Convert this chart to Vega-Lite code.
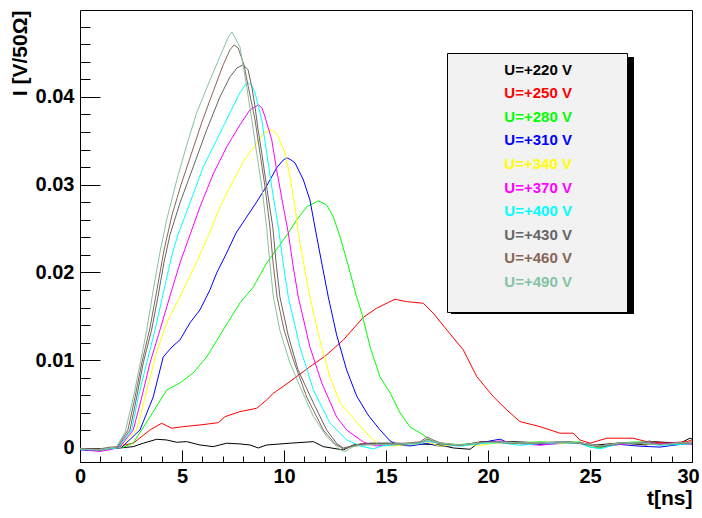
{
"$schema": "https://vega.github.io/schema/vega-lite/v6.json",
"width": 612,
"height": 452,
"autosize": {"type": "none"},
"padding": {"left": 80, "top": 10, "right": 10, "bottom": 56},
"background": "white",
"config": {"view": {"stroke": "black", "strokeWidth": 1}, "font": "Liberation Sans"},
"datasets": {"curves": [
{"U":"U=+220 V","t":0,"I":-0.0001},{"U":"U=+220 V","t":0.49,"I":-0.0002},{"U":"U=+220 V","t":0.98,"I":-0.0002},{"U":"U=+220 V","t":1.47,"I":-0.0001},{"U":"U=+220 V","t":1.96,"I":0},{"U":"U=+220 V","t":2.61,"I":0.00015},{"U":"U=+220 V","t":3.1,"I":0.00054},{"U":"U=+220 V","t":3.76,"I":0.00099},{"U":"U=+220 V","t":4.25,"I":0.00091},{"U":"U=+220 V","t":4.74,"I":0.00065},{"U":"U=+220 V","t":5.23,"I":0.00072},{"U":"U=+220 V","t":5.88,"I":0.00034},{"U":"U=+220 V","t":6.53,"I":0.00015},{"U":"U=+220 V","t":7.19,"I":0.00054},{"U":"U=+220 V","t":7.84,"I":0.00046},{"U":"U=+220 V","t":8.33,"I":0.00034},{"U":"U=+220 V","t":8.74,"I":0},{"U":"U=+220 V","t":9.15,"I":0.00034},{"U":"U=+220 V","t":10.29,"I":0.00054},{"U":"U=+220 V","t":11.44,"I":0.00072},{"U":"U=+220 V","t":11.93,"I":0.00015},{"U":"U=+220 V","t":12.91,"I":-0.00023},{"U":"U=+220 V","t":13.4,"I":0.00034},{"U":"U=+220 V","t":14.22,"I":0.00054},{"U":"U=+220 V","t":15.52,"I":0.00054},{"U":"U=+220 V","t":16.67,"I":0.00046},{"U":"U=+220 V","t":17.65,"I":0.00034},{"U":"U=+220 V","t":18.3,"I":0},{"U":"U=+220 V","t":19.12,"I":-0.00015},{"U":"U=+220 V","t":19.61,"I":0.00072},{"U":"U=+220 V","t":21.24,"I":0.00072},{"U":"U=+220 V","t":22.55,"I":0.00057},{"U":"U=+220 V","t":24.02,"I":0.00068},{"U":"U=+220 V","t":25.33,"I":0.00034},{"U":"U=+220 V","t":26.47,"I":0.00057},{"U":"U=+220 V","t":27.78,"I":0.00034},{"U":"U=+220 V","t":28.1,"I":0.00072},{"U":"U=+220 V","t":29.41,"I":0.00054},{"U":"U=+220 V","t":29.9,"I":0.00111},{"U":"U=+220 V","t":30,"I":0.00103},
{"U":"U=+250 V","t":0,"I":-0.0001},{"U":"U=+250 V","t":0.49,"I":-0.0002},{"U":"U=+250 V","t":0.98,"I":-0.0002},{"U":"U=+250 V","t":1.47,"I":0},{"U":"U=+250 V","t":1.8,"I":0.00015},{"U":"U=+250 V","t":2.61,"I":0.00054},{"U":"U=+250 V","t":3.43,"I":0.00205},{"U":"U=+250 V","t":4.0,"I":0.00281},{"U":"U=+250 V","t":4.5,"I":0.00225},{"U":"U=+250 V","t":5.06,"I":0.00243},{"U":"U=+250 V","t":5.88,"I":0.00262},{"U":"U=+250 V","t":6.78,"I":0.00288},{"U":"U=+250 V","t":7.11,"I":0.00357},{"U":"U=+250 V","t":7.84,"I":0.00414},{"U":"U=+250 V","t":8.66,"I":0.00452},{"U":"U=+250 V","t":9.15,"I":0.00547},{"U":"U=+250 V","t":9.48,"I":0.00623},{"U":"U=+250 V","t":10.29,"I":0.00756},{"U":"U=+250 V","t":11.27,"I":0.00926},{"U":"U=+250 V","t":12.09,"I":0.0106},{"U":"U=+250 V","t":12.91,"I":0.01231},{"U":"U=+250 V","t":13.56,"I":0.01402},{"U":"U=+250 V","t":13.89,"I":0.01489},{"U":"U=+250 V","t":14.54,"I":0.01592},{"U":"U=+250 V","t":15.44,"I":0.01695},{"U":"U=+250 V","t":16.01,"I":0.01667},{"U":"U=+250 V","t":16.83,"I":0.01649},{"U":"U=+250 V","t":17.32,"I":0.01535},{"U":"U=+250 V","t":17.98,"I":0.01345},{"U":"U=+250 V","t":18.79,"I":0.01117},{"U":"U=+250 V","t":19.45,"I":0.00813},{"U":"U=+250 V","t":20.26,"I":0.00585},{"U":"U=+250 V","t":20.92,"I":0.00433},{"U":"U=+250 V","t":21.57,"I":0.003},{"U":"U=+250 V","t":22.55,"I":0.00243},{"U":"U=+250 V","t":23.53,"I":0.00168},{"U":"U=+250 V","t":24.18,"I":0.00168},{"U":"U=+250 V","t":24.51,"I":0.00091},{"U":"U=+250 V","t":25.0,"I":0.00054},{"U":"U=+250 V","t":25.82,"I":0.00111},{"U":"U=+250 V","t":27.11,"I":0.00111},{"U":"U=+250 V","t":27.78,"I":0.00072},{"U":"U=+250 V","t":28.76,"I":0.00054},{"U":"U=+250 V","t":29.74,"I":0.00072},{"U":"U=+250 V","t":30,"I":0.00091},
{"U":"U=+280 V","t":0,"I":-0.0001},{"U":"U=+280 V","t":0.49,"I":-0.0002},{"U":"U=+280 V","t":0.98,"I":-0.0003},{"U":"U=+280 V","t":1.47,"I":-0.0001},{"U":"U=+280 V","t":1.8,"I":0},{"U":"U=+280 V","t":2.16,"I":0.00011},{"U":"U=+280 V","t":2.61,"I":0.00057},{"U":"U=+280 V","t":3.43,"I":0.00353},{"U":"U=+280 V","t":4.25,"I":0.00661},{"U":"U=+280 V","t":4.9,"I":0.00741},{"U":"U=+280 V","t":5.55,"I":0.00855},{"U":"U=+280 V","t":6.21,"I":0.01037},{"U":"U=+280 V","t":7.02,"I":0.01345},{"U":"U=+280 V","t":7.84,"I":0.01652},{"U":"U=+280 V","t":8.5,"I":0.01835},{"U":"U=+280 V","t":9.15,"I":0.02108},{"U":"U=+280 V","t":9.61,"I":0.02256},{"U":"U=+280 V","t":10.15,"I":0.02427},{"U":"U=+280 V","t":10.62,"I":0.02598},{"U":"U=+280 V","t":11.11,"I":0.02746},{"U":"U=+280 V","t":11.68,"I":0.02815},{"U":"U=+280 V","t":12.09,"I":0.02769},{"U":"U=+280 V","t":12.42,"I":0.02632},{"U":"U=+280 V","t":12.75,"I":0.02405},{"U":"U=+280 V","t":13.14,"I":0.02085},{"U":"U=+280 V","t":13.56,"I":0.01721},{"U":"U=+280 V","t":13.81,"I":0.01538},{"U":"U=+280 V","t":14.22,"I":0.01151},{"U":"U=+280 V","t":14.71,"I":0.00809},{"U":"U=+280 V","t":15.2,"I":0.00627},{"U":"U=+280 V","t":15.69,"I":0.00399},{"U":"U=+280 V","t":16.18,"I":0.00239},{"U":"U=+280 V","t":16.83,"I":0.00148},{"U":"U=+280 V","t":17.16,"I":0.00091},{"U":"U=+280 V","t":17.65,"I":0.00046},{"U":"U=+280 V","t":18.63,"I":0.0004},{"U":"U=+280 V","t":19.61,"I":0.0006},{"U":"U=+280 V","t":20.59,"I":0.0007},{"U":"U=+280 V","t":21.57,"I":0.0006},{"U":"U=+280 V","t":22.55,"I":0.0007},{"U":"U=+280 V","t":23.53,"I":0.0006},{"U":"U=+280 V","t":24.51,"I":0.0007},{"U":"U=+280 V","t":25.0,"I":0.0001},{"U":"U=+280 V","t":25.49,"I":0},{"U":"U=+280 V","t":26.47,"I":0.0006},{"U":"U=+280 V","t":27.45,"I":0.0007},{"U":"U=+280 V","t":28.43,"I":0.0004},{"U":"U=+280 V","t":29.41,"I":0.0005},{"U":"U=+280 V","t":30,"I":0.0006},
{"U":"U=+310 V","t":0,"I":-0.0002},{"U":"U=+310 V","t":0.49,"I":-0.0003},{"U":"U=+310 V","t":0.98,"I":-0.0002},{"U":"U=+310 V","t":1.47,"I":-0.0001},{"U":"U=+310 V","t":1.8,"I":0},{"U":"U=+310 V","t":2.06,"I":0.00011},{"U":"U=+310 V","t":2.94,"I":0.00205},{"U":"U=+310 V","t":3.59,"I":0.00581},{"U":"U=+310 V","t":4.08,"I":0.01037},{"U":"U=+310 V","t":4.51,"I":0.01151},{"U":"U=+310 V","t":4.9,"I":0.01231},{"U":"U=+310 V","t":5.39,"I":0.01425},{"U":"U=+310 V","t":5.88,"I":0.01573},{"U":"U=+310 V","t":6.37,"I":0.01801},{"U":"U=+310 V","t":6.7,"I":0.01994},{"U":"U=+310 V","t":7.19,"I":0.02222},{"U":"U=+310 V","t":7.65,"I":0.0245},{"U":"U=+310 V","t":8.17,"I":0.02632},{"U":"U=+310 V","t":8.66,"I":0.02803},{"U":"U=+310 V","t":9.15,"I":0.02986},{"U":"U=+310 V","t":9.64,"I":0.03191},{"U":"U=+310 V","t":9.97,"I":0.03282},{"U":"U=+310 V","t":10.15,"I":0.03305},{"U":"U=+310 V","t":10.34,"I":0.03282},{"U":"U=+310 V","t":10.54,"I":0.03248},{"U":"U=+310 V","t":10.95,"I":0.03054},{"U":"U=+310 V","t":11.27,"I":0.02826},{"U":"U=+310 V","t":11.57,"I":0.0245},{"U":"U=+310 V","t":11.85,"I":0.02108},{"U":"U=+310 V","t":12.17,"I":0.01721},{"U":"U=+310 V","t":12.58,"I":0.01288},{"U":"U=+310 V","t":13.07,"I":0.00889},{"U":"U=+310 V","t":13.56,"I":0.00593},{"U":"U=+310 V","t":14.12,"I":0.00376},{"U":"U=+310 V","t":14.71,"I":0.00205},{"U":"U=+310 V","t":15.2,"I":0.0008},{"U":"U=+310 V","t":15.59,"I":0.00034},{"U":"U=+310 V","t":16.18,"I":0.00023},{"U":"U=+310 V","t":16.67,"I":0.0004},{"U":"U=+310 V","t":17.01,"I":0.0005},{"U":"U=+310 V","t":17.65,"I":0.0002},{"U":"U=+310 V","t":18.63,"I":0.0003},{"U":"U=+310 V","t":19.61,"I":0.0005},{"U":"U=+310 V","t":20.1,"I":0.0008},{"U":"U=+310 V","t":20.59,"I":0.001},{"U":"U=+310 V","t":21.0,"I":0.0006},{"U":"U=+310 V","t":21.57,"I":0.0005},{"U":"U=+310 V","t":22.55,"I":0.0004},{"U":"U=+310 V","t":23.53,"I":0.0005},{"U":"U=+310 V","t":24.51,"I":0.0006},{"U":"U=+310 V","t":25.49,"I":0.0002},{"U":"U=+310 V","t":26.47,"I":0.0004},{"U":"U=+310 V","t":27.45,"I":0.0002},{"U":"U=+310 V","t":28.43,"I":0.0001},{"U":"U=+310 V","t":29.41,"I":0.0004},{"U":"U=+310 V","t":30,"I":0.0005},
{"U":"U=+340 V","t":0,"I":-0.0001},{"U":"U=+340 V","t":0.49,"I":-0.0002},{"U":"U=+340 V","t":0.98,"I":-0.0002},{"U":"U=+340 V","t":1.47,"I":-0.0001},{"U":"U=+340 V","t":1.8,"I":0},{"U":"U=+340 V","t":2.01,"I":0.00011},{"U":"U=+340 V","t":2.78,"I":0.00205},{"U":"U=+340 V","t":3.19,"I":0.00581},{"U":"U=+340 V","t":3.76,"I":0.01094},{"U":"U=+340 V","t":4.25,"I":0.01425},{"U":"U=+340 V","t":4.9,"I":0.01721},{"U":"U=+340 V","t":5.72,"I":0.02119},{"U":"U=+340 V","t":6.37,"I":0.02461},{"U":"U=+340 V","t":6.86,"I":0.02746},{"U":"U=+340 V","t":7.35,"I":0.02974},{"U":"U=+340 V","t":8.0,"I":0.03259},{"U":"U=+340 V","t":8.66,"I":0.03476},{"U":"U=+340 V","t":8.99,"I":0.03578},{"U":"U=+340 V","t":9.31,"I":0.03624},{"U":"U=+340 V","t":9.56,"I":0.03601},{"U":"U=+340 V","t":9.72,"I":0.03544},{"U":"U=+340 V","t":10.05,"I":0.03362},{"U":"U=+340 V","t":10.29,"I":0.03088},{"U":"U=+340 V","t":10.54,"I":0.02746},{"U":"U=+340 V","t":10.7,"I":0.0245},{"U":"U=+340 V","t":10.98,"I":0.02085},{"U":"U=+340 V","t":11.27,"I":0.01721},{"U":"U=+340 V","t":11.76,"I":0.01231},{"U":"U=+340 V","t":12.25,"I":0.00809},{"U":"U=+340 V","t":12.75,"I":0.00513},{"U":"U=+340 V","t":13.56,"I":0.00296},{"U":"U=+340 V","t":14.22,"I":0.00125},{"U":"U=+340 V","t":14.71,"I":0.00034},{"U":"U=+340 V","t":15.29,"I":0.00023},{"U":"U=+340 V","t":15.69,"I":0.0003},{"U":"U=+340 V","t":16.67,"I":0.0005},{"U":"U=+340 V","t":17.01,"I":0.0007},{"U":"U=+340 V","t":17.65,"I":0.0002},{"U":"U=+340 V","t":18.63,"I":0.0004},{"U":"U=+340 V","t":19.61,"I":0.0003},{"U":"U=+340 V","t":20.59,"I":0.0006},{"U":"U=+340 V","t":21.57,"I":0.0005},{"U":"U=+340 V","t":22.55,"I":0.0006},{"U":"U=+340 V","t":23.53,"I":0.0005},{"U":"U=+340 V","t":24.51,"I":0.0006},{"U":"U=+340 V","t":25.49,"I":0.0002},{"U":"U=+340 V","t":26.47,"I":0.0005},{"U":"U=+340 V","t":27.45,"I":0.0005},{"U":"U=+340 V","t":28.43,"I":0.0004},{"U":"U=+340 V","t":29.41,"I":0.0006},{"U":"U=+340 V","t":30,"I":0.0006},
{"U":"U=+370 V","t":0,"I":0},{"U":"U=+370 V","t":0.49,"I":-0.0003},{"U":"U=+370 V","t":0.98,"I":-0.0004},{"U":"U=+370 V","t":1.47,"I":-0.0002},{"U":"U=+370 V","t":1.8,"I":0},{"U":"U=+370 V","t":1.96,"I":0.00011},{"U":"U=+370 V","t":2.61,"I":0.00205},{"U":"U=+370 V","t":3.03,"I":0.00581},{"U":"U=+370 V","t":3.43,"I":0.00969},{"U":"U=+370 V","t":3.92,"I":0.01345},{"U":"U=+370 V","t":4.5,"I":0.01801},{"U":"U=+370 V","t":4.95,"I":0.02142},{"U":"U=+370 V","t":5.39,"I":0.02427},{"U":"U=+370 V","t":5.88,"I":0.02746},{"U":"U=+370 V","t":6.53,"I":0.03122},{"U":"U=+370 V","t":7.19,"I":0.0343},{"U":"U=+370 V","t":7.84,"I":0.03681},{"U":"U=+370 V","t":8.33,"I":0.03852},{"U":"U=+370 V","t":8.74,"I":0.03909},{"U":"U=+370 V","t":8.92,"I":0.03875},{"U":"U=+370 V","t":9.07,"I":0.03772},{"U":"U=+370 V","t":9.4,"I":0.0351},{"U":"U=+370 V","t":9.64,"I":0.03168},{"U":"U=+370 V","t":9.97,"I":0.02746},{"U":"U=+370 V","t":10.21,"I":0.0245},{"U":"U=+370 V","t":10.44,"I":0.02085},{"U":"U=+370 V","t":10.7,"I":0.01721},{"U":"U=+370 V","t":11.27,"I":0.01151},{"U":"U=+370 V","t":11.85,"I":0.00741},{"U":"U=+370 V","t":12.58,"I":0.00353},{"U":"U=+370 V","t":13.07,"I":0.00205},{"U":"U=+370 V","t":13.89,"I":0.00068},{"U":"U=+370 V","t":14.51,"I":0.00023},{"U":"U=+370 V","t":15.0,"I":0.00034},{"U":"U=+370 V","t":15.69,"I":0.0004},{"U":"U=+370 V","t":16.67,"I":0.0006},{"U":"U=+370 V","t":17.01,"I":0.0008},{"U":"U=+370 V","t":17.65,"I":0.0005},{"U":"U=+370 V","t":18.63,"I":0.0003},{"U":"U=+370 V","t":19.61,"I":0.0005},{"U":"U=+370 V","t":20.59,"I":0.0008},{"U":"U=+370 V","t":21.57,"I":0.0005},{"U":"U=+370 V","t":22.55,"I":0.0003},{"U":"U=+370 V","t":23.53,"I":0.0006},{"U":"U=+370 V","t":24.51,"I":0.0006},{"U":"U=+370 V","t":25.49,"I":0.0002},{"U":"U=+370 V","t":26.47,"I":0.0004},{"U":"U=+370 V","t":27.45,"I":0.0006},{"U":"U=+370 V","t":28.43,"I":0.0005},{"U":"U=+370 V","t":29.41,"I":0.0006},{"U":"U=+370 V","t":30,"I":0.0004},
{"U":"U=+400 V","t":0,"I":-0.0001},{"U":"U=+400 V","t":0.49,"I":-0.0002},{"U":"U=+400 V","t":0.98,"I":-0.0002},{"U":"U=+400 V","t":1.47,"I":-0.0001},{"U":"U=+400 V","t":1.8,"I":0},{"U":"U=+400 V","t":1.91,"I":0.00011},{"U":"U=+400 V","t":2.53,"I":0.00205},{"U":"U=+400 V","t":2.86,"I":0.00581},{"U":"U=+400 V","t":3.27,"I":0.00969},{"U":"U=+400 V","t":3.68,"I":0.01345},{"U":"U=+400 V","t":4.17,"I":0.01858},{"U":"U=+400 V","t":4.51,"I":0.02199},{"U":"U=+400 V","t":4.8,"I":0.02427},{"U":"U=+400 V","t":5.39,"I":0.02792},{"U":"U=+400 V","t":6.04,"I":0.03202},{"U":"U=+400 V","t":6.7,"I":0.0351},{"U":"U=+400 V","t":7.35,"I":0.03818},{"U":"U=+400 V","t":7.84,"I":0.04046},{"U":"U=+400 V","t":8.14,"I":0.04148},{"U":"U=+400 V","t":8.25,"I":0.0416},{"U":"U=+400 V","t":8.43,"I":0.04125},{"U":"U=+400 V","t":8.58,"I":0.04046},{"U":"U=+400 V","t":8.91,"I":0.03738},{"U":"U=+400 V","t":9.15,"I":0.03362},{"U":"U=+400 V","t":9.4,"I":0.02974},{"U":"U=+400 V","t":9.72,"I":0.02518},{"U":"U=+400 V","t":9.95,"I":0.02119},{"U":"U=+400 V","t":10.21,"I":0.01721},{"U":"U=+400 V","t":10.78,"I":0.01151},{"U":"U=+400 V","t":11.44,"I":0.00661},{"U":"U=+400 V","t":12.25,"I":0.00285},{"U":"U=+400 V","t":13.07,"I":0.00091},{"U":"U=+400 V","t":13.73,"I":0.00023},{"U":"U=+400 V","t":14.38,"I":-0.00011},{"U":"U=+400 V","t":14.8,"I":0.00023},{"U":"U=+400 V","t":15.69,"I":0.0004},{"U":"U=+400 V","t":16.67,"I":0.0005},{"U":"U=+400 V","t":17.01,"I":0.0008},{"U":"U=+400 V","t":17.65,"I":0.0005},{"U":"U=+400 V","t":18.63,"I":0.0002},{"U":"U=+400 V","t":19.61,"I":0.0005},{"U":"U=+400 V","t":20.59,"I":0.0006},{"U":"U=+400 V","t":21.57,"I":0.0003},{"U":"U=+400 V","t":22.55,"I":0.0005},{"U":"U=+400 V","t":23.53,"I":0.0006},{"U":"U=+400 V","t":24.51,"I":0.0005},{"U":"U=+400 V","t":25.0,"I":0.0001},{"U":"U=+400 V","t":25.49,"I":-0.0001},{"U":"U=+400 V","t":26.47,"I":0.0005},{"U":"U=+400 V","t":27.45,"I":0.0006},{"U":"U=+400 V","t":28.43,"I":0.0003},{"U":"U=+400 V","t":29.41,"I":0.0004},{"U":"U=+400 V","t":30,"I":0.0005},
{"U":"U=+430 V","t":0,"I":-0.0001},{"U":"U=+430 V","t":0.49,"I":-0.0001},{"U":"U=+430 V","t":0.98,"I":-0.0002},{"U":"U=+430 V","t":1.47,"I":0},{"U":"U=+430 V","t":1.86,"I":0.00011},{"U":"U=+430 V","t":2.45,"I":0.00205},{"U":"U=+430 V","t":2.78,"I":0.00581},{"U":"U=+430 V","t":3.1,"I":0.00969},{"U":"U=+430 V","t":3.51,"I":0.01345},{"U":"U=+430 V","t":3.82,"I":0.01721},{"U":"U=+430 V","t":4.12,"I":0.02119},{"U":"U=+430 V","t":4.41,"I":0.02427},{"U":"U=+430 V","t":4.9,"I":0.02792},{"U":"U=+430 V","t":5.55,"I":0.03202},{"U":"U=+430 V","t":6.21,"I":0.03624},{"U":"U=+430 V","t":6.86,"I":0.04},{"U":"U=+430 V","t":7.35,"I":0.04228},{"U":"U=+430 V","t":7.7,"I":0.04331},{"U":"U=+430 V","t":8.0,"I":0.04365},{"U":"U=+430 V","t":8.24,"I":0.04308},{"U":"U=+430 V","t":8.43,"I":0.04103},{"U":"U=+430 V","t":8.58,"I":0.03886},{"U":"U=+430 V","t":8.73,"I":0.03624},{"U":"U=+430 V","t":8.91,"I":0.03362},{"U":"U=+430 V","t":9.15,"I":0.02974},{"U":"U=+430 V","t":9.45,"I":0.02518},{"U":"U=+430 V","t":9.61,"I":0.02119},{"U":"U=+430 V","t":9.8,"I":0.01721},{"U":"U=+430 V","t":10.2,"I":0.01288},{"U":"U=+430 V","t":10.69,"I":0.00889},{"U":"U=+430 V","t":11.44,"I":0.00513},{"U":"U=+430 V","t":12.09,"I":0.00205},{"U":"U=+430 V","t":12.6,"I":0.00046},{"U":"U=+430 V","t":12.91,"I":0},{"U":"U=+430 V","t":13.33,"I":0.00023},{"U":"U=+430 V","t":13.82,"I":0.00046},{"U":"U=+430 V","t":14.71,"I":0.0005},{"U":"U=+430 V","t":15.69,"I":0.0004},{"U":"U=+430 V","t":16.67,"I":0.0006},{"U":"U=+430 V","t":17.01,"I":0.001},{"U":"U=+430 V","t":17.65,"I":0.0005},{"U":"U=+430 V","t":18.63,"I":0.0003},{"U":"U=+430 V","t":19.61,"I":0.0006},{"U":"U=+430 V","t":20.59,"I":0.0007},{"U":"U=+430 V","t":21.57,"I":0.0006},{"U":"U=+430 V","t":22.55,"I":0.0005},{"U":"U=+430 V","t":23.53,"I":0.0007},{"U":"U=+430 V","t":24.51,"I":0.0005},{"U":"U=+430 V","t":25.49,"I":0.0001},{"U":"U=+430 V","t":26.47,"I":0.0005},{"U":"U=+430 V","t":27.45,"I":0.0006},{"U":"U=+430 V","t":27.94,"I":0.0008},{"U":"U=+430 V","t":28.43,"I":0.0004},{"U":"U=+430 V","t":29.41,"I":0.0005},{"U":"U=+430 V","t":30,"I":0.0007},
{"U":"U=+460 V","t":0,"I":-0.0001},{"U":"U=+460 V","t":0.49,"I":-0.0001},{"U":"U=+460 V","t":0.98,"I":-0.0001},{"U":"U=+460 V","t":1.47,"I":0.0001},{"U":"U=+460 V","t":1.81,"I":0.00011},{"U":"U=+460 V","t":2.35,"I":0.00205},{"U":"U=+460 V","t":2.7,"I":0.00581},{"U":"U=+460 V","t":3.03,"I":0.00969},{"U":"U=+460 V","t":3.43,"I":0.01368},{"U":"U=+460 V","t":3.77,"I":0.01801},{"U":"U=+460 V","t":4.12,"I":0.02256},{"U":"U=+460 V","t":4.51,"I":0.02655},{"U":"U=+460 V","t":4.95,"I":0.02997},{"U":"U=+460 V","t":5.44,"I":0.03339},{"U":"U=+460 V","t":5.98,"I":0.03715},{"U":"U=+460 V","t":6.52,"I":0.04057},{"U":"U=+460 V","t":7.02,"I":0.04365},{"U":"U=+460 V","t":7.35,"I":0.04536},{"U":"U=+460 V","t":7.55,"I":0.04592},{"U":"U=+460 V","t":7.75,"I":0.04558},{"U":"U=+460 V","t":8.04,"I":0.04365},{"U":"U=+460 V","t":8.25,"I":0.04114},{"U":"U=+460 V","t":8.58,"I":0.03738},{"U":"U=+460 V","t":8.82,"I":0.03362},{"U":"U=+460 V","t":9.07,"I":0.02974},{"U":"U=+460 V","t":9.31,"I":0.02518},{"U":"U=+460 V","t":9.46,"I":0.02119},{"U":"U=+460 V","t":9.66,"I":0.01721},{"U":"U=+460 V","t":10.0,"I":0.01345},{"U":"U=+460 V","t":10.46,"I":0.01003},{"U":"U=+460 V","t":11.11,"I":0.00581},{"U":"U=+460 V","t":11.93,"I":0.00205},{"U":"U=+460 V","t":12.5,"I":0.00046},{"U":"U=+460 V","t":12.91,"I":-0.00011},{"U":"U=+460 V","t":13.24,"I":0.00011},{"U":"U=+460 V","t":13.73,"I":0.00046},{"U":"U=+460 V","t":14.71,"I":0.0004},{"U":"U=+460 V","t":15.69,"I":0.0005},{"U":"U=+460 V","t":16.67,"I":0.0007},{"U":"U=+460 V","t":17.01,"I":0.00125},{"U":"U=+460 V","t":17.32,"I":0.0009},{"U":"U=+460 V","t":17.65,"I":0.0006},{"U":"U=+460 V","t":18.63,"I":0.0003},{"U":"U=+460 V","t":19.61,"I":0.0007},{"U":"U=+460 V","t":20.59,"I":0.0006},{"U":"U=+460 V","t":21.57,"I":0.0005},{"U":"U=+460 V","t":22.55,"I":0.0006},{"U":"U=+460 V","t":23.53,"I":0.0007},{"U":"U=+460 V","t":24.51,"I":0.0006},{"U":"U=+460 V","t":25.49,"I":0.0002},{"U":"U=+460 V","t":26.47,"I":0.0006},{"U":"U=+460 V","t":27.45,"I":0.0005},{"U":"U=+460 V","t":28.43,"I":0.0004},{"U":"U=+460 V","t":29.41,"I":0.0006},{"U":"U=+460 V","t":30,"I":0.0005},
{"U":"U=+490 V","t":0,"I":-0.0001},{"U":"U=+490 V","t":0.49,"I":-0.0002},{"U":"U=+490 V","t":0.98,"I":-0.0002},{"U":"U=+490 V","t":1.47,"I":0},{"U":"U=+490 V","t":1.8,"I":0.00015},{"U":"U=+490 V","t":2.21,"I":0.0018},{"U":"U=+490 V","t":2.61,"I":0.0057},{"U":"U=+490 V","t":2.94,"I":0.0095},{"U":"U=+490 V","t":3.27,"I":0.0134},{"U":"U=+490 V","t":3.59,"I":0.018},{"U":"U=+490 V","t":3.92,"I":0.0223},{"U":"U=+490 V","t":4.25,"I":0.026},{"U":"U=+490 V","t":4.74,"I":0.0305},{"U":"U=+490 V","t":5.23,"I":0.0345},{"U":"U=+490 V","t":5.72,"I":0.0382},{"U":"U=+490 V","t":6.37,"I":0.0419},{"U":"U=+490 V","t":6.86,"I":0.0446},{"U":"U=+490 V","t":7.27,"I":0.0468},{"U":"U=+490 V","t":7.45,"I":0.0474},{"U":"U=+490 V","t":7.84,"I":0.0457},{"U":"U=+490 V","t":8.17,"I":0.0412},{"U":"U=+490 V","t":8.42,"I":0.0374},{"U":"U=+490 V","t":8.66,"I":0.0336},{"U":"U=+490 V","t":8.91,"I":0.0298},{"U":"U=+490 V","t":9.15,"I":0.0251},{"U":"U=+490 V","t":9.31,"I":0.021},{"U":"U=+490 V","t":9.48,"I":0.0172},{"U":"U=+490 V","t":9.8,"I":0.0134},{"U":"U=+490 V","t":10.29,"I":0.0097},{"U":"U=+490 V","t":10.78,"I":0.007},{"U":"U=+490 V","t":11.44,"I":0.0036},{"U":"U=+490 V","t":12.09,"I":0.0013},{"U":"U=+490 V","t":12.75,"I":-0.0002},{"U":"U=+490 V","t":12.99,"I":-0.0004},{"U":"U=+490 V","t":13.4,"I":0.00015},{"U":"U=+490 V","t":13.89,"I":0.0003},{"U":"U=+490 V","t":14.71,"I":0.0004},{"U":"U=+490 V","t":15.69,"I":0.00046},{"U":"U=+490 V","t":16.67,"I":0.00057},{"U":"U=+490 V","t":17.01,"I":0.0009},{"U":"U=+490 V","t":17.65,"I":0.00057},{"U":"U=+490 V","t":18.63,"I":0.00034},{"U":"U=+490 V","t":19.61,"I":0.00057},{"U":"U=+490 V","t":20.59,"I":0.00068},{"U":"U=+490 V","t":21.57,"I":0.00057},{"U":"U=+490 V","t":22.55,"I":0.00057},{"U":"U=+490 V","t":23.53,"I":0.00068},{"U":"U=+490 V","t":24.51,"I":0.00057},{"U":"U=+490 V","t":25.49,"I":0.00023},{"U":"U=+490 V","t":26.47,"I":0.00057},{"U":"U=+490 V","t":27.45,"I":0.00057},{"U":"U=+490 V","t":28.43,"I":0.00034},{"U":"U=+490 V","t":29.41,"I":0.00057},{"U":"U=+490 V","t":30,"I":0.00057}
]},
"data": {"name": "curves"},
"layer": [
{
"mark": {"type": "line", "strokeWidth": 1, "clip": true},
"encoding": {
"x": {"field": "t", "type": "quantitative",
 "scale": {"domain": [0, 30], "nice": false, "zero": false},
 "axis": {"values": [0,1,2,3,4,5,6,7,8,9,10,11,12,13,14,15,16,17,18,19,20,21,22,23,24,25,26,27,28,29,30],
  "tickCount": 200, "format": "d",
  "domain": false, "grid": false, "tickColor": "black", "tickWidth": 1,
  "tickSize": {"condition": {"test": "datum.value % 5 === 0", "value": -12}, "value": -6},
  "labelExpr": "datum.value % 5 === 0 ? datum.label : ''",
  "labelOffset": {"condition": {"test": "datum.value === 30", "value": -4}, "value": 0},
  "labelFont": "Liberation Sans", "labelFontWeight": "bold", "labelFontSize": 20, "labelColor": "black",
  "labelPadding": 16, "labelFlush": false, "labelOverlap": false,
  "title": "t[ns]", "titleFont": "Liberation Sans", "titleFontWeight": "bold", "titleFontSize": 21, "titleColor": "black",
  "titleX": 612, "titleY": 36, "titleAlign": "right", "titleBaseline": "middle", "titleAnchor": null}},
"y": {"field": "I", "type": "quantitative",
 "scale": {"domain": [-0.0016, 0.0499], "nice": false, "zero": false},
 "axis": {"values": [0,0.002,0.004,0.006,0.008,0.01,0.012,0.014,0.016,0.018,0.02,0.022,0.024,0.026,0.028,0.03,0.032,0.034,0.036,0.038,0.04,0.042,0.044,0.046,0.048],
  "tickCount": 200,
  "domain": false, "grid": false, "tickColor": "black", "tickWidth": 1,
  "tickSize": {"condition": {"test": "abs(datum.value*100 - round(datum.value*100)) < 1e-6", "value": -20}, "value": -10},
  "labelExpr": "abs(datum.value*100 - round(datum.value*100)) < 1e-6 ? format(datum.value, '~g') : ''",
  "labelFont": "Liberation Sans", "labelFontWeight": "bold", "labelFontSize": 20, "labelColor": "black",
  "labelPadding": 26, "labelFlush": false, "labelOverlap": false,
  "title": "I [V/50Ω]", "titleFont": "Liberation Sans", "titleFontWeight": "bold", "titleFontSize": 21, "titleColor": "black",
  "titleAngle": -90, "titleX": -60, "titleY": 0, "titleAlign": "right", "titleBaseline": "middle", "titleAnchor": null}},
"color": {"field": "U", "type": "nominal",
 "scale": {"domain": ["U=+220 V","U=+250 V","U=+280 V","U=+310 V","U=+340 V","U=+370 V","U=+400 V","U=+430 V","U=+460 V","U=+490 V"],
  "range": ["#000000","#ff0000","#00ff00","#0000ff","#ffff00","#ff00ff","#00ffff","#666666","#876656","#85c2a3"]},
 "legend": {"orient": "none", "legendX": 367, "legendY": 43, "zindex": 1,
  "title": "\u00a0", "titleOrient": "bottom", "titleFontSize": 5, "titlePadding": 8,
  "fillColor": "#f2f2f2", "strokeColor": "black", "padding": 9,
  "symbolSize": 0, "symbolStrokeWidth": 0, "symbolOpacity": 0, "labelOffset": 0,
  "labelFont": "Liberation Sans", "labelFontWeight": "bold", "labelFontSize": 15, "labelLimit": 400,
  "rowPadding": 7.6,
  "encode": {"labels": {"update": {"fill": {"scale": "color", "field": "value"},
   "text": {"signal": "'\u200b\u00a0\u00a0\u00a0\u00a0\u00a0\u00a0\u00a0\u00a0' + datum.label + '\u00a0\u00a0\u00a0\u00a0\u00a0\u00a0\u00a0\u00a0\u00a0\u00a0\u00a0\u200b'"}}}}}}
}
},
{
"transform": [{"filter": "datum.t === 0 && datum.U === 'U=+220 V'"}],
"mark": {"type": "point", "opacity": 0, "filled": true, "color": "black", "fill": "black", "stroke": "black"},
"encoding": {
"x": {"field": "t", "type": "quantitative"},
"y": {"field": "I", "type": "quantitative"},
"shape": {"field": "U", "type": "nominal",
 "scale": {"range": ["M-0.712,-1L0.712,-1L0.712,1L-0.712,1Z"]},
 "legend": {"orient": "none", "legendX": 334, "legendY": 47, "zindex": 0,
  "title": null, "padding": 0, "labelExpr": "''", "labelOffset": 0,
  "symbolSize": 66049, "symbolStrokeWidth": 0, "symbolOpacity": 1, "symbolFillColor": "black", "symbolStrokeColor": "black",
  "encode": {"symbols": {"update": {"fill": {"value": "black"}, "stroke": {"value": "black"}, "strokeWidth": {"value": 0}, "opacity": {"value": 1}, "size": {"value": 66049}}}}}}
}
}
]
}
